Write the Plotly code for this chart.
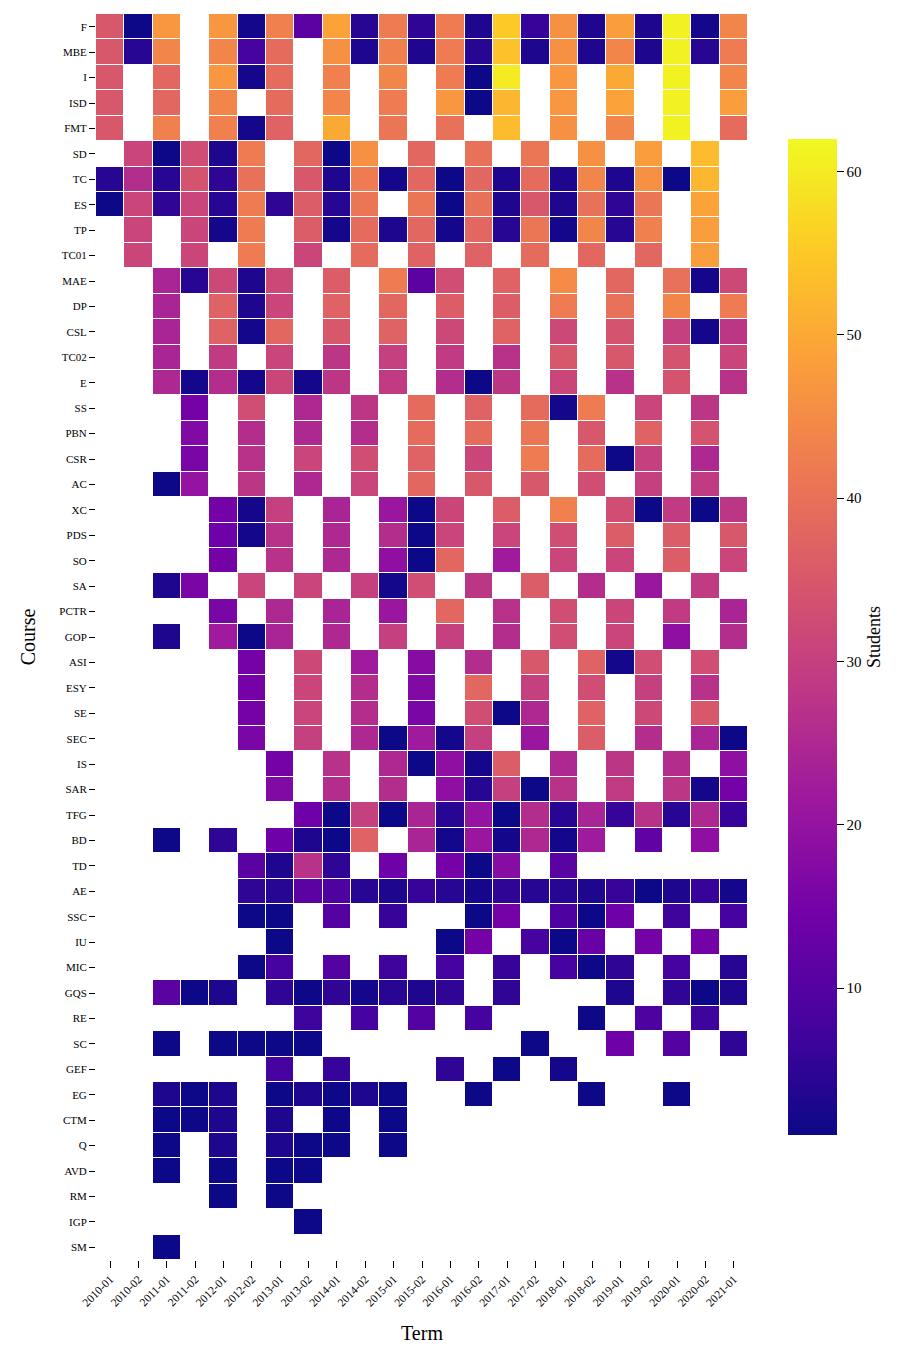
import plotly.graph_objects as go

N = None

terms = ["2010-01", "2010-02", "2011-01", "2011-02", "2012-01", "2012-02",
         "2013-01", "2013-02", "2014-01", "2014-02", "2015-01", "2015-02",
         "2016-01", "2016-02", "2017-01", "2017-02", "2018-01", "2018-02",
         "2019-01", "2019-02", "2020-01", "2020-02", "2021-01"]

courses = ["F", "MBE", "I", "ISD", "FMT", "SD", "TC", "ES", "TP", "TC01",
           "MAE", "DP", "CSL", "TC02", "E", "SS", "PBN", "CSR", "AC", "XC",
           "PDS", "SO", "SA", "PCTR", "GOP", "ASI", "ESY", "SE", "SEC", "IS",
           "SAR", "TFG", "BD", "TD", "AE", "SSC", "IU", "MIC", "GQS", "RE",
           "SC", "GEF", "EG", "CTM", "Q", "AVD", "RM", "IGP", "SM"]

students = [
    [35, 1, 47, N, 47, 2, 43, 11, 49, 4, 42, 5, 42, 3, 55, 6, 46, 3, 48, 3, 61, 2, 44],   # F
    [35, 4, 44, N, 44, 8, 39, N, 46, 3, 43, 3, 42, 4, 54, 3, 46, 3, 44, 3, 61, 4, 42],    # MBE
    [35, N, 38, N, 47, 2, 39, N, 43, N, 44, N, 42, 1, 60, N, 47, N, 50, N, 61, N, 44],    # I
    [35, N, 38, N, 44, N, 39, N, 44, N, 42, N, 47, 1, 52, N, 47, N, 49, N, 61, N, 48],    # ISD
    [35, N, 43, N, 43, 2, 37, N, 50, N, 41, N, 40, N, 53, N, 46, N, 44, N, 61, N, 39],    # FMT
    [N, 31, 1, 33, 3, 42, N, 38, 1, 46, N, 38, N, 40, N, 41, N, 46, N, 48, N, 53, N],     # SD
    [4, 26, 4, 34, 5, 40, N, 35, 3, 42, 2, 38, 1, 38, 3, 39, 3, 44, 3, 46, 1, 52, N],     # TC
    [1, 31, 5, 31, 4, 42, 5, 36, 4, 41, N, 41, 1, 40, 3, 35, 3, 40, 5, 41, N, 49, N],     # ES
    [N, 31, N, 31, 2, 42, N, 36, 2, 39, 3, 38, 2, 38, 4, 41, 2, 44, 4, 43, N, 48, N],     # TP
    [N, 31, N, 31, N, 42, N, 31, N, 39, N, 37, N, 37, N, 39, N, 38, N, 38, N, 48, N],     # TC01
    [N, N, 24, 4, 32, 3, 32, N, 36, N, 42, 11, 33, N, 37, N, 45, N, 38, N, 40, 2, 32],    # MAE
    [N, N, 24, N, 37, 3, 31, N, 37, N, 38, N, 36, N, 36, N, 42, N, 40, N, 44, N, 42],     # DP
    [N, N, 24, N, 37, 2, 38, N, 35, N, 37, N, 32, N, 37, N, 32, N, 34, N, 30, 2, 28],     # CSL
    [N, N, 24, N, 29, N, 31, N, 28, N, 30, N, 29, N, 27, N, 35, N, 35, N, 34, N, 31],     # TC02
    [N, N, 25, 2, 26, 2, 31, 2, 28, N, 29, N, 26, 1, 28, N, 31, N, 27, N, 34, N, 27],     # E
    [N, N, N, 15, N, 33, N, 25, N, 28, N, 39, N, 37, N, 39, 2, 42, N, 31, N, 28, N],      # SS
    [N, N, N, 17, N, 26, N, 25, N, 26, N, 39, N, 39, N, 41, N, 35, N, 37, N, 34, N],      # PBN
    [N, N, N, 16, N, 27, N, 31, N, 33, N, 37, N, 31, N, 42, N, 39, 1, 30, N, 25, N],      # CSR
    [N, N, 1, 20, N, 28, N, 25, N, 31, N, 38, N, 35, N, 35, N, 33, N, 30, N, 29, N],      # AC
    [N, N, N, N, 15, 2, 30, N, 24, N, 21, 1, 31, N, 36, N, 43, N, 33, 1, 29, 1, 28],      # XC
    [N, N, N, N, 14, 2, 27, N, 25, N, 26, 1, 31, N, 31, N, 33, N, 36, N, 36, N, 35],      # PDS
    [N, N, N, N, 15, N, 27, N, 25, N, 19, 1, 38, N, 22, N, 31, N, 31, N, 36, N, 31],      # SO
    [N, N, 3, 16, N, 31, N, 31, N, 30, 2, 33, N, 28, N, 36, N, 26, N, 21, N, 29, N],      # SA
    [N, N, N, N, 16, N, 25, N, 24, N, 21, N, 38, N, 27, N, 33, N, 31, N, 29, N, 24],      # PCTR
    [N, N, 3, N, 22, 1, 24, N, 25, N, 30, N, 30, N, 26, N, 33, N, 31, N, 19, N, 26],      # GOP
    [N, N, N, N, N, 15, N, 32, N, 22, N, 18, N, 26, N, 35, N, 37, 2, 33, N, 33, N],       # ASI
    [N, N, N, N, N, 15, N, 31, N, 26, N, 17, N, 38, N, 30, N, 33, N, 30, N, 27, N],       # ESY
    [N, N, N, N, N, 15, N, 31, N, 26, N, 16, N, 33, 1, 25, N, 37, N, 32, N, 35, N],       # SE
    [N, N, N, N, N, 16, N, 30, N, 25, 1, 22, 2, 30, N, 21, N, 36, N, 26, N, 24, 1],       # SEC
    [N, N, N, N, N, N, 15, N, 27, N, 25, 1, 19, 2, 36, N, 25, N, 28, N, 26, N, 19],       # IS
    [N, N, N, N, N, N, 17, N, 26, N, 26, N, 19, 4, 30, 1, 27, N, 29, N, 28, 2, 15],       # SAR
    [N, N, N, N, N, N, N, 14, 1, 30, 1, 24, 4, 20, 1, 26, 4, 24, 6, 27, 4, 25, 6],        # TFG
    [N, N, 1, N, 5, N, 14, 3, 1, 37, N, 24, 2, 21, 2, 25, 2, 22, N, 12, N, 19, N],        # BD
    [N, N, N, N, N, 11, 3, 27, 5, N, 14, N, 15, 1, 18, N, 11, N, N, N, N, N, N],          # TD
    [N, N, N, N, N, 5, 4, 11, 9, 4, 3, 6, 4, 2, 5, 4, 4, 3, 6, 1, 3, 6, 2],               # AE
    [N, N, N, N, N, 1, 1, N, 10, N, 6, N, N, 1, 15, N, 9, 1, 14, N, 7, N, 8],             # SSC
    [N, N, N, N, N, N, 1, N, N, N, N, N, 1, 15, N, 8, 1, 13, N, 15, N, 15, N],            # IU
    [N, N, N, N, N, 1, 8, N, 10, N, 7, N, 8, N, 6, N, 8, 1, 5, N, 8, N, 4],               # MIC
    [N, N, 11, 1, 3, N, 5, 1, 5, 2, 4, 3, 5, N, 5, N, N, N, 3, N, 5, 1, 3],               # GQS
    [N, N, N, N, N, N, N, 7, N, 8, N, 10, N, 8, N, N, N, 1, N, 9, N, 7, N],               # RE
    [N, N, 1, N, 1, 1, 1, 1, N, N, N, N, N, N, N, 1, N, N, 14, N, 10, N, 5],              # SC
    [N, N, N, N, N, N, 8, N, 6, N, N, N, 5, N, 1, N, 2, N, N, N, N, N, N],                # GEF
    [N, N, 3, 1, 3, N, 1, 3, 1, 3, 1, N, N, 1, N, N, N, 1, N, N, 1, N, N],                # EG
    [N, N, 1, 1, 3, N, 3, N, 1, N, 1, N, N, N, N, N, N, N, N, N, N, N, N],                # CTM
    [N, N, 1, N, 3, N, 3, 1, 1, N, 1, N, N, N, N, N, N, N, N, N, N, N, N],                # Q
    [N, N, 1, N, 1, N, 1, 1, N, N, N, N, N, N, N, N, N, N, N, N, N, N, N],                # AVD
    [N, N, N, N, 1, N, 1, N, N, N, N, N, N, N, N, N, N, N, N, N, N, N, N],                # RM
    [N, N, N, N, N, N, N, 1, N, N, N, N, N, N, N, N, N, N, N, N, N, N, N],                # IGP
    [N, N, 1, N, N, N, N, N, N, N, N, N, N, N, N, N, N, N, N, N, N, N, N],                # SM
]

colorbar_ticks = [10, 20, 30, 40, 50, 60]

FONT = "Liberation Serif"

fig = go.Figure(
    go.Heatmap(
        z=students,
        x=terms,
        y=courses,
        colorscale="Plasma",
        zmin=1,
        zmax=62,
        xgap=1,
        ygap=1,
        hoverongaps=False,
        colorbar=dict(
            x=1.061,
            xanchor="left",
            xpad=0,
            ypad=0,
            y=0.5,
            yanchor="middle",
            len=0.799,
            lenmode="fraction",
            thickness=49,
            thicknessmode="pixels",
            outlinewidth=0,
            tickvals=colorbar_ticks,
            ticks="outside",
            ticklen=7,
            tickwidth=1.3,
            tickcolor="black",
            tickfont=dict(family=FONT, size=15, color="black"),
            title=dict(text="Students", side="right",
                       font=dict(family=FONT, size=18, color="black")),
        ),
    )
)

fig.update_layout(
    width=912,
    height=1357,
    margin=dict(l=96, r=164, t=14, b=97),
    paper_bgcolor="white",
    plot_bgcolor="white",
    font=dict(family=FONT, color="black"),
    xaxis=dict(
        type="category",
        title=dict(text="Term", font=dict(family=FONT, size=20), standoff=18),
        tickangle=-45,
        tickfont=dict(family=FONT, size=11.5),
        ticks="outside",
        ticklen=7,
        tickwidth=1.3,
        tickcolor="black",
        showgrid=False,
        zeroline=False,
        showline=False,
    ),
    yaxis=dict(
        type="category",
        autorange="reversed",
        title=dict(text="Course", font=dict(family=FONT, size=20), standoff=18),
        tickfont=dict(family=FONT, size=11),
        ticks="outside",
        ticklen=6,
        tickwidth=1.3,
        tickcolor="black",
        showgrid=False,
        zeroline=False,
        showline=False,
    ),
)

fig.write_html("out.html")
